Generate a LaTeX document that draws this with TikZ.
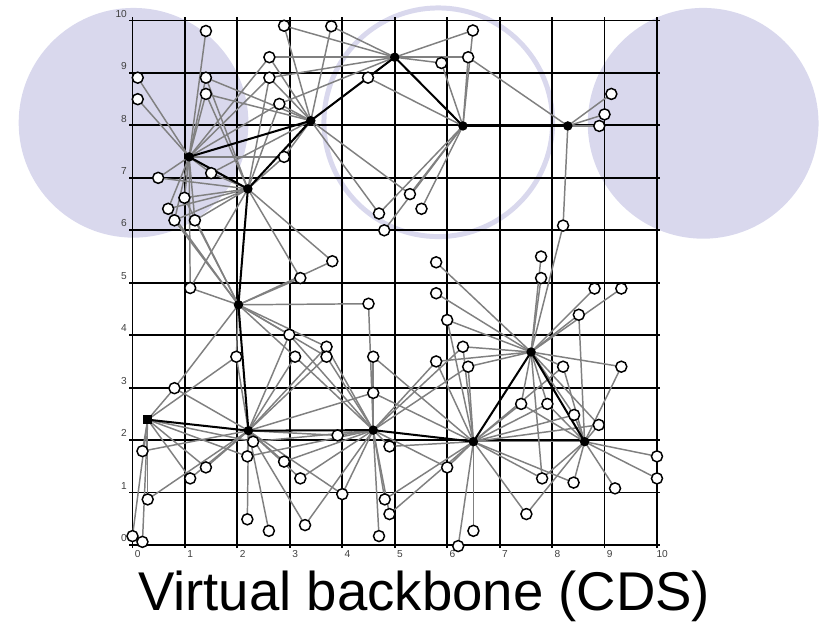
\documentclass[tikz,border=0pt]{standalone}
\usepackage{fontspec}
\setsansfont{Liberation Sans}
\definecolor{rangefill}{RGB}{217,216,237}

\begin{document}
\begin{tikzpicture}[
		grid/.style={line width=1pt},
		link/.style={gray, line width=0.8pt},
		backbone/.style={black, line width=1.1pt},
		host/.style={circle, draw, fill=white, line width=0.8pt, inner sep=0pt, minimum size=2.1mm},
		dom/.style={circle, fill=black, inner sep=0pt, minimum size=1.8mm},
		root/.style={rectangle, fill=black, inner sep=0pt, minimum size=1.7mm},
		tick/.style={font=\sffamily\fontsize{5.5}{6}\selectfont, text=black!75, inner sep=0pt},
		]
		\useasboundingbox (-2.526,-1.525) rectangle (13.146,10.391);
		
		% transmission ranges
		\fill[rangefill] (0.02,8.05) circle (2.19);
		\fill[rangefill] (10.88,8.04) circle (2.2);
		\draw[rangefill, line width=2.7pt] (5.83,8.06) circle (2.18);
		
		% grid and axis numbers
		\foreach \i in {0,...,10} {
			\draw[grid] (\i,-0.06) -- (\i,10.06);
			\draw[grid] (-0.06,\i) -- (10.06,\i);
			\node[tick, anchor=base] (xl\i) at (\i+0.1,-0.245) {\i};
			\node[tick, anchor=base east] (yl\i) at (-0.1,\i+0.065) {\i};
		}
		
		% backbone nodes
		\coordinate (cds1) at (1.08,7.40);
		\coordinate (cds2) at (2.20,6.79);
		\coordinate (cds3) at (3.40,8.09);
		\coordinate (cds4) at (5.00,9.30);
		\coordinate (cds5) at (6.30,7.99);
		\coordinate (cds6) at (8.30,7.99);
		\coordinate (cds7) at (2.02,4.58);
		\coordinate (cds8) at (0.29,2.39);
		\coordinate (cds9) at (2.21,2.18);
		\coordinate (cds10) at (4.59,2.19);
		\coordinate (cds11) at (6.50,1.97);
		\coordinate (cds12) at (7.60,3.68);
		\coordinate (cds13) at (8.62,1.97);
		
		% ordinary nodes
		\foreach \n/\x/\y in {1/1.40/9.80, 2/2.89/9.90, 3/3.79/9.89, 4/2.61/9.30, 5/0.10/8.91,
				6/0.10/8.50, 7/1.40/8.91, 8/1.40/8.60, 9/2.61/8.91, 10/2.80/8.41, 11/2.89/7.40,
				12/1.50/7.09, 13/0.49/7.00, 14/0.99/6.62, 15/0.68/6.41, 16/0.80/6.19, 17/1.19/6.19,
				18/3.81/5.41, 19/3.20/5.09, 20/6.49/9.81, 21/6.40/9.30, 22/5.89/9.19, 23/4.49/8.91,
				24/5.29/6.69, 25/4.70/6.32, 26/5.51/6.41, 27/4.80/6.00, 28/9.13/8.60, 29/9.00/8.21,
				30/8.90/7.99, 31/8.21/6.09, 32/5.79/5.39, 33/7.79/5.50, 34/7.79/5.09, 35/1.10/4.90,
				36/4.50/4.60, 37/2.99/4.01, 38/3.70/3.78, 39/3.70/3.59, 40/1.98/3.59, 41/3.10/3.59,
				42/4.59/3.59, 43/0.80/2.99, 44/4.59/2.90, 45/0.19/1.79, 46/3.91/2.09, 47/2.30/1.97,
				48/2.19/1.69, 49/2.89/1.59, 50/1.40/1.48, 51/1.10/1.27, 52/3.20/1.27, 53/0.29/0.87,
				54/4.00/0.97, 55/2.19/0.49, 56/2.60/0.27, 57/3.29/0.38, 58/0.00/0.17, 59/0.19/0.06,
				60/5.79/4.80, 61/8.81/4.89, 62/9.32/4.89, 63/8.51/4.39, 64/6.00/4.29, 65/6.30/3.78,
				66/5.79/3.50, 67/6.40/3.40, 68/8.21/3.40, 69/9.32/3.40, 70/7.41/2.69, 71/7.91/2.69,
				72/8.42/2.48, 73/8.89/2.29, 74/4.90/1.88, 75/6.00/1.48, 76/7.81/1.27, 77/8.41/1.19,
				78/9.20/1.08, 79/10.00/1.69, 80/10.00/1.27, 81/4.81/0.87, 82/4.90/0.59, 83/7.51/0.59,
				84/6.50/0.27, 85/6.21/-0.02, 86/4.70/0.17}
			\coordinate (v\n) at (\x,\y);
		
		% links to the dominators
		\foreach \v in {1,4,5,6,7,8,9,10,11,12,13,14,15,16,17,35} \draw[link] (cds1) -- (v\v);
		\foreach \v in {7,8,9,10,11,12,13,14,15,16,17,18,19,35} \draw[link] (cds2) -- (v\v);
		\foreach \v in {2,3,4,7,8,9,10,11,12,23,24,25} \draw[link] (cds3) -- (v\v);
		\foreach \v in {2,3,4,9,10,20,21,22,23} \draw[link] (cds4) -- (v\v);
		\foreach \v in {20,21,22,23,24,25,26,27} \draw[link] (cds5) -- (v\v);
		\foreach \v in {21,28,29,30,31} \draw[link] (cds6) -- (v\v);
		\foreach \v in {14,15,16,17,18,19,35,36,37,38,39,40,41,43} \draw[link] (cds7) -- (v\v);
		\foreach \v in {40,43,45,47,48,50,51,53,58,59} \draw[link] (cds8) -- (v\v);
		\foreach \v in {37,38,39,40,41,43,44,45,46,47,48,49,50,51,52,53,54,55,56,57} \draw[link] (cds9) -- (v\v);
		\foreach \v in {36,37,38,39,41,42,44,46,47,48,49,52,54,57,65,66,67,74,75,81,82,86} \draw[link] (cds10) -- (v\v);
		\foreach \v in {42,44,64,65,66,67,68,70,71,72,73,74,75,76,77,81,82,83,84,85} \draw[link] (cds11) -- (v\v);
		\foreach \v in {31,32,33,34,60,61,62,63,64,65,66,67,68,69,70,71,72,73,76} \draw[link] (cds12) -- (v\v);
		\foreach \v in {63,68,69,70,71,72,73,76,77,78,79,80,83} \draw[link] (cds13) -- (v\v);
		\draw[link] (cds11) -- (cds13);
		
		% the connected dominating set
		\draw[backbone] (cds1) -- (cds2) -- (cds3) -- (cds1);
		\draw[backbone] (cds3) -- (cds4) -- (cds5) -- (cds6);
		\draw[backbone] (cds2) -- (cds7) -- (cds9) -- (cds10) -- (cds11) -- (cds12) -- (cds13);
		\draw[backbone] (cds8) -- (cds9);
		
		\foreach \n in {1,...,86} \node[host] (host\n) at (v\n) {};
		\foreach \n in {1,2,3,4,5,6,7,9,10,11,12,13} \node[dom] (dom\n) at (cds\n) {};
		\node[root] (dom8) at (cds8) {};
		
		\node[font=\sffamily\fontsize{29.6}{32}\selectfont, anchor=base] (title) at (5.56,-1.24) {Virtual backbone (CDS)};
		
	\end{tikzpicture}
\end{document}
